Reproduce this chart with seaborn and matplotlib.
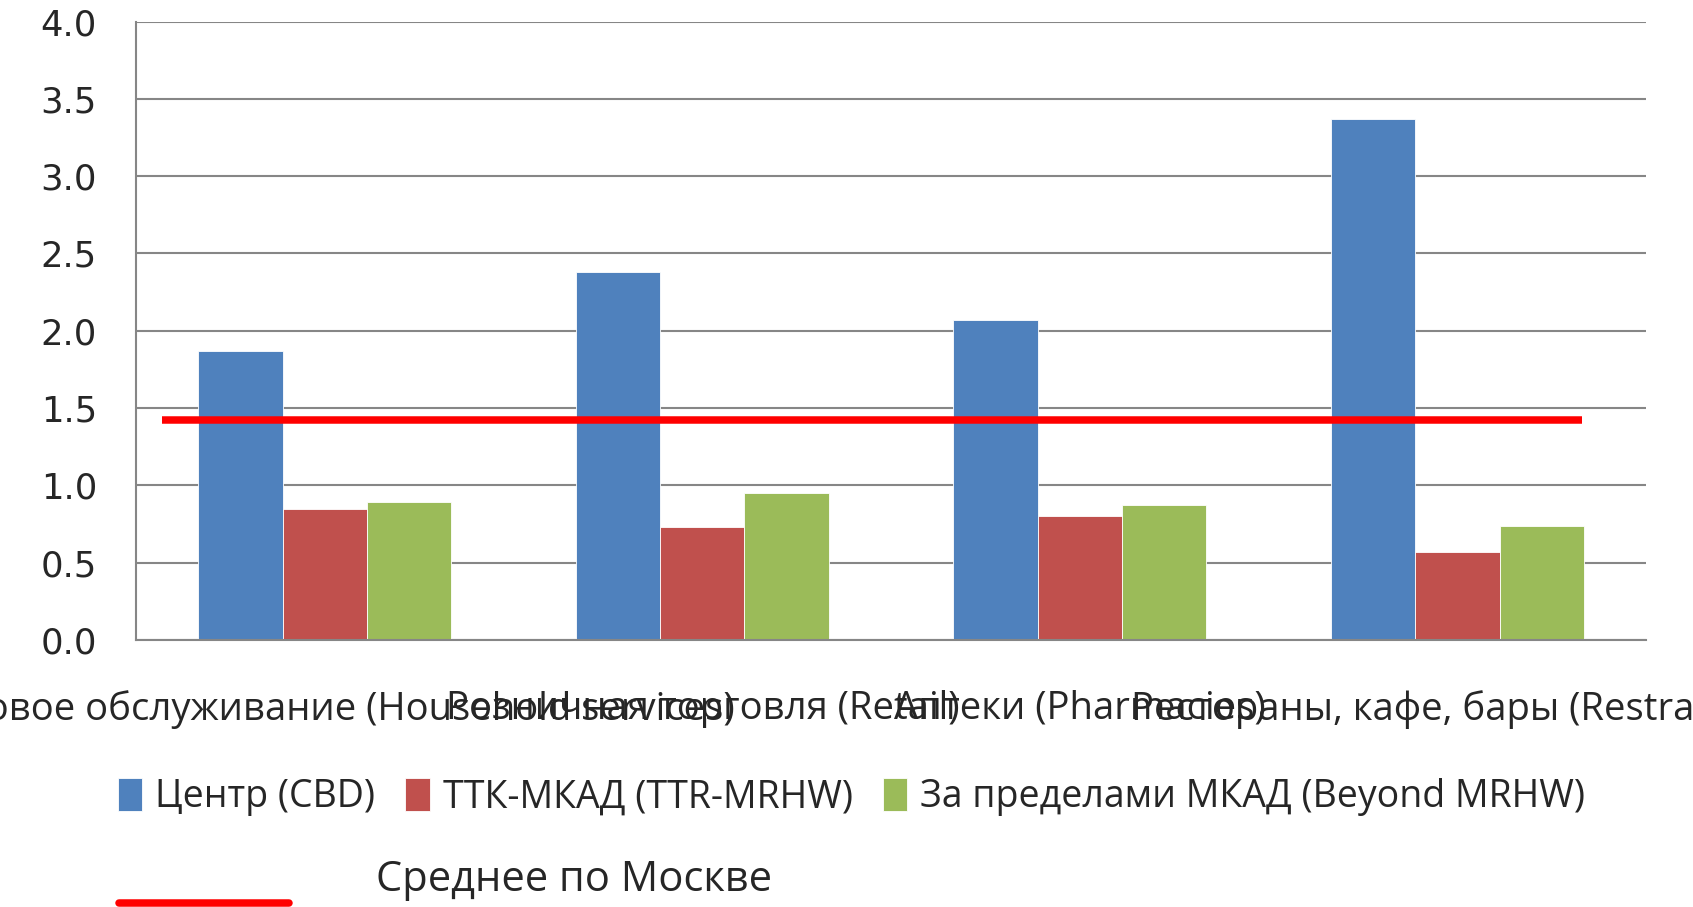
import matplotlib
matplotlib.use('Agg')
import matplotlib.pyplot as plt
from matplotlib.lines import Line2D
import pandas as pd
import seaborn as sns

# данные
categories = ['Бытовое обслуживание (Household services)', 'Розничная торговля (Retail)',
              'Аптеки (Pharmacies)', 'Рестораны, кафе, бары (Restraunts)']
zones = ['Центр (CBD)', 'ТТК-МКАД (TTR-MRHW)', 'За пределами МКАД (Beyond MRHW)']
cbd = [1.87, 2.38, 2.07, 3.37]
ttr_mrhw = [0.85, 0.73, 0.80, 0.57]
beyond_mrhw = [0.89, 0.95, 0.87, 0.74]
moscow_avg = 1.42
avg_label = 'Среднее по Москве'
yticks = [0.0, 0.5, 1.0, 1.5, 2.0, 2.5, 3.0, 3.5, 4.0]

colors = ['#4F81BD', '#C0504D', '#9BBB59']

df = pd.DataFrame({
    'category': categories * 3,
    'zone': [z for z in zones for _ in categories],
    'value': cbd + ttr_mrhw + beyond_mrhw,
})

sns.set_style('white')
plt.rcParams['font.family'] = ['Open Sans', 'DejaVu Sans']

fig = plt.figure(figsize=(16.93, 9.07), dpi=100)
ax = fig.add_axes([0.0803, 0.2944, 0.8921, 0.6818])

sns.barplot(data=df, x='category', y='value', hue='zone', palette=colors,
            saturation=1, width=0.67, ax=ax, edgecolor='white', linewidth=0.6)
handles, labels = ax.get_legend_handles_labels()
ax.legend_.remove()

# линия среднего по Москве
ax.plot([-0.43, 3.33], [moscow_avg, moscow_avg], color='#FF0000', lw=5.4,
        solid_capstyle='butt', zorder=5)

ax.set_xlim(-0.5, 3.5)
ax.set_ylim(0, 4.0)
ax.set_yticks(yticks)
ax.set_yticklabels([f'{v:.1f}' for v in yticks], family='DejaVu Sans', fontsize=25.5)
ax.yaxis.grid(True, color='#868686', lw=1.5)
ax.set_axisbelow(True)
ax.tick_params(axis='y', length=11, width=1.5, color='#868686', pad=17)

ax.set_xticks([0, 1, 2, 3])
ax.set_xticklabels(categories, fontsize=27.5)
ax.set_xticks([-0.5, 0.5, 1.5, 2.5, 3.5], minor=True)
ax.tick_params(axis='x', which='major', length=0, pad=36)
ax.tick_params(axis='x', which='minor', length=12, width=1.5, color='#868686')
ax.set_xlabel('')
ax.set_ylabel('')

for side in ['top', 'right']:
    ax.spines[side].set_visible(False)
for side in ['left', 'bottom']:
    ax.spines[side].set_color('#868686')
    ax.spines[side].set_linewidth(1.5)

fig.legend(handles, labels, loc='center', bbox_to_anchor=(0.503, 0.121), ncol=3,
           frameon=False, fontsize=27, handlelength=0.65, handleheight=0.95,
           handletextpad=0.35, columnspacing=0.8)

fig.add_artist(Line2D([0.0703, 0.1707], [0.004, 0.004], color='#FF0000', lw=5.4,
                      transform=fig.transFigure))
fig.text(0.222, 0.030, avg_label, fontsize=30, va='center', ha='left')

fig.savefig('out.png', dpi=100)
